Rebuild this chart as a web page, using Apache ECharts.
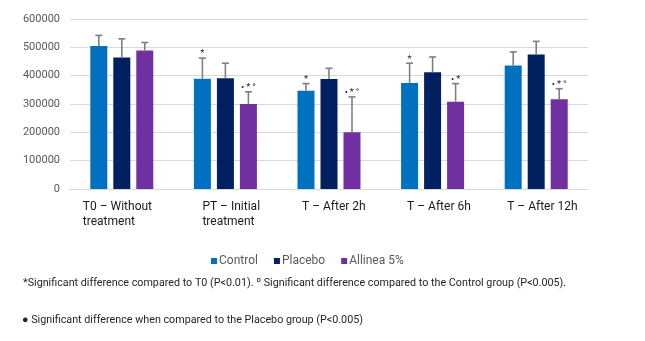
<!DOCTYPE html>
<html>
<head>
<meta charset="utf-8">
<title>Results by time point</title>
<script src="https://cdn.jsdelivr.net/npm/echarts/dist/echarts.min.js"></script>
<style>
  html, body { margin: 0; padding: 0; background: #ffffff; }
  #chart { width: 645px; height: 341px; }
</style>
</head>
<body>
<div id="chart"></div>
<script>
// Time points on the x axis (two-line labels where needed)
const categories = ['T0 – Without\ntreatment', 'PT – Initial\ntreatment', 'T – After 2h', 'T – After 6h', 'T – After 12h'];

// Group means
const control = [505000, 389000, 347000, 374000, 436000];
const placebo = [464000, 391000, 388000, 412000, 475000];
const allinea = [489000, 300000, 200000, 308000, 317000];

// Upper error bar lengths
const controlErr = [37000, 73000, 25000, 70000, 48000];
const placeboErr = [66000, 53000, 38000, 54000, 46000];
const allineaErr = [28000, 43000, 125000, 64000, 37000];

// Significance marks drawn above each error bar
const controlMarks = ['', '*', '*', '*', ''];
const placeboMarks = ['', '', '', '', ''];
const allineaMarks = ['', '•\u2009*\u2009°', '•\u2009*\u2009°', '•\u2009*', '•\u2009*\u2009°'];

// Y axis ticks
const yTicks = [0, 100000, 200000, 300000, 400000, 500000, 600000];

const seriesNames = ['Control', 'Placebo', 'Allinea 5%'];
const colors = ['#0070C0', '#002060', '#7030A0'];

const footnote1 = '*Significant difference compared to T0 (P<0.01). º Significant difference compared to the Control group (P<0.005).';
const footnote2 = '● Significant difference when compared to the Placebo group (P<0.005)';

const BAR_WIDTH = 17;
const BAR_GAP = 6;
const BAR_STEP = BAR_WIDTH + BAR_GAP;

// Per-label left padding so the lines sit left-aligned in their slot
const labelPad = [2, 34, 26, 29, 22];
const LABEL_BOX = 80;

const rich = {};
labelPad.forEach(function (p, i) {
  rich['c' + i] = {
    width: LABEL_BOX,
    align: 'left',
    padding: [0, 0, 0, p],
    fontFamily: 'Roboto',
    fontSize: 12,
    lineHeight: 15,
    color: '#1a1a1a'
  };
});

function errorBarSeries(name, values, errs, marks, offsetIndex) {
  const data = values.map(function (v, i) { return [i, v, errs[i]]; });
  return {
    type: 'custom',
    name: name + ' error',
    z: 5,
    silent: true,
    data: data,
    renderItem: function (params, api) {
      const i = api.value(0);
      const v = api.value(1);
      const top = v + api.value(2);
      const base = api.coord([i, v]);
      const head = api.coord([i, top]);
      const x = base[0] + offsetIndex * BAR_STEP;
      const lineStyle = { stroke: '#7f7f7f', lineWidth: 1.6 };
      const children = [
        { type: 'line', shape: { x1: x, y1: base[1], x2: x, y2: head[1] }, style: lineStyle },
        { type: 'line', shape: { x1: x - 3.5, y1: head[1], x2: x + 3.5, y2: head[1] }, style: lineStyle }
      ];
      const mark = marks[params.dataIndex];
      if (mark) {
        children.push({
          type: 'text',
          style: {
            text: mark,
            x: x,
            y: head[1] - 4,
            align: 'center',
            verticalAlign: 'middle',
            fontFamily: 'Roboto',
            fontSize: 9.5,
            fill: '#262626'
          }
        });
      }
      return { type: 'group', children: children };
    }
  };
}

const chart = echarts.init(document.getElementById('chart'), null, { renderer: 'canvas' });

chart.setOption({
  animation: false,
  backgroundColor: '#ffffff',
  grid: { left: 70, right: 57, top: 19, bottom: 152 },
  legend: {
    data: seriesNames,
    left: 211,
    top: 255,
    padding: 0,
    icon: 'rect',
    itemWidth: 6,
    itemHeight: 6,
    itemGap: 16,
    textStyle: { fontFamily: 'Roboto', fontSize: 12, color: '#595959', padding: [0, 0, 0, -3] }
  },
  xAxis: {
    type: 'category',
    data: categories,
    axisLine: { lineStyle: { color: '#d9d9d9', width: 1 } },
    axisTick: { show: false },
    axisLabel: {
      interval: 0,
      margin: 10,
      formatter: function (value, index) {
        return value.split('\n').map(function (line) {
          return '{c' + index + '|' + line + '}';
        }).join('\n');
      },
      rich: rich
    }
  },
  yAxis: {
    type: 'value',
    min: yTicks[0],
    max: yTicks[yTicks.length - 1],
    interval: yTicks[1] - yTicks[0],
    axisLine: { show: false },
    axisTick: { show: false },
    splitLine: { lineStyle: { color: '#d9d9d9', width: 1 } },
    axisLabel: {
      fontFamily: 'Roboto',
      fontSize: 11,
      color: '#595959',
      margin: 10,
      formatter: function (v) { return String(v); }
    }
  },
  series: [
    { type: 'bar', name: seriesNames[0], data: control, barWidth: BAR_WIDTH, barGap: (BAR_GAP / BAR_WIDTH * 100) + '%', itemStyle: { color: colors[0] } },
    { type: 'bar', name: seriesNames[1], data: placebo, barWidth: BAR_WIDTH, barGap: (BAR_GAP / BAR_WIDTH * 100) + '%', itemStyle: { color: colors[1] } },
    { type: 'bar', name: seriesNames[2], data: allinea, barWidth: BAR_WIDTH, barGap: (BAR_GAP / BAR_WIDTH * 100) + '%', itemStyle: { color: colors[2] } },
    errorBarSeries(seriesNames[0], control, controlErr, controlMarks, -1),
    errorBarSeries(seriesNames[1], placebo, placeboErr, placeboMarks, 0),
    errorBarSeries(seriesNames[2], allinea, allineaErr, allineaMarks, 1)
  ],
  graphic: [
    {
      type: 'text',
      left: 23,
      top: 278,
      style: { text: footnote1, fontFamily: 'Roboto', fontSize: 10.75, fill: '#262626' }
    },
    {
      type: 'text',
      left: 22,
      top: 315,
      style: { text: footnote2, fontFamily: 'Roboto', fontSize: 10.75, fill: '#262626' }
    }
  ]
});
</script>
</body>
</html>
